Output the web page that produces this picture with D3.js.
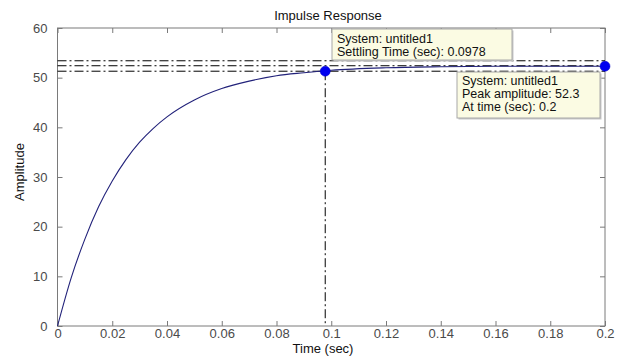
<!DOCTYPE html>
<html>
<head>
<meta charset="utf-8">
<script src="https://cdn.jsdelivr.net/npm/d3@7"></script>
<style>
  html, body { margin: 0; padding: 0; background: #fff; }
  svg { display: block; font-family: "Liberation Sans", Arial, sans-serif; }
</style>
</head>
<body>
<svg id="chart" width="617" height="357"></svg>
<script>
// ---- data ----
const timeValues = [0, 0.005, 0.01, 0.015, 0.02, 0.025, 0.03, 0.035, 0.04, 0.05, 0.06, 0.07, 0.08, 0.09, 0.1, 0.12, 0.14, 0.16, 0.18, 0.2];
const amplitudeValues = [0, 9.7, 17.5, 24.0, 29.2, 33.5, 37.0, 39.8, 42.1, 45.5, 47.8, 49.3, 50.4, 51.0, 51.5, 52.0, 52.2, 52.3, 52.3, 52.3];
const xTicks = [0, 0.02, 0.04, 0.06, 0.08, 0.1, 0.12, 0.14, 0.16, 0.18, 0.2];
const xTickLabels = ["0", "0.02", "0.04", "0.06", "0.08", "0.1", "0.12", "0.14", "0.16", "0.18", "0.2"];
const yTicks = [0, 10, 20, 30, 40, 50, 60];
const settlingBands = [53.4, 52.4, 51.3];
const settlingPoint = { t: 0.0978, y: 51.3 };
const peakPoint = { t: 0.2, y: 52.3 };
const settlingTip = ["System: untitled1", "Settling Time (sec): 0.0978"];
const peakTip = ["System: untitled1", "Peak amplitude: 52.3", "At time (sec): 0.2"];
const titleText = "Impulse Response";
const xLabelText = "Time (sec)";
const yLabelText = "Amplitude";

// ---- layout ----
const L = 57.5, R = 605, T = 28, B = 326;
const svg = d3.select("#chart");
const x = d3.scaleLinear().domain([0, 0.2]).range([L, R]);
const y = d3.scaleLinear().domain([0, 60]).range([B, T]);

const axisColor = "#7a7a7a";
const labelColor = "#4a4a4a";

// axes box
svg.append("rect").attr("x", L).attr("y", T).attr("width", R - L).attr("height", B - T)
  .attr("fill", "#fff").attr("stroke", axisColor).attr("stroke-width", 1);

// axes with inward ticks
const axBottom = svg.append("g").attr("transform", `translate(0,${B})`)
  .call(d3.axisBottom(x).tickValues(xTicks).tickFormat((d, i) => xTickLabels[i]).tickSizeInner(-5).tickSizeOuter(0).tickPadding(3));
const axTop = svg.append("g").attr("transform", `translate(0,${T})`)
  .call(d3.axisTop(x).tickValues(xTicks).tickFormat("").tickSizeInner(-5).tickSizeOuter(0));
const axLeft = svg.append("g").attr("transform", `translate(${L},0)`)
  .call(d3.axisLeft(y).tickValues(yTicks).tickSizeInner(-5).tickSizeOuter(0).tickPadding(10));
const axRight = svg.append("g").attr("transform", `translate(${R},0)`)
  .call(d3.axisRight(y).tickValues(yTicks).tickFormat("").tickSizeInner(-5).tickSizeOuter(0));
[axBottom, axTop, axLeft, axRight].forEach(g => {
  g.select(".domain").attr("stroke", "none");
  g.selectAll(".tick line").attr("stroke", axisColor);
  g.selectAll(".tick text").attr("fill", labelColor).attr("font-size", 13)
    .attr("font-family", "Liberation Sans, Arial, sans-serif");
});

// settling band lines (dash-dot)
svg.append("g").selectAll("line").data(settlingBands).join("line")
  .attr("x1", L).attr("x2", R)
  .attr("y1", d => y(d)).attr("y2", d => y(d))
  .attr("stroke", "#000").attr("stroke-width", 1)
  .attr("stroke-dasharray", "9,3,2,3");

// vertical settling line
svg.append("line")
  .attr("x1", x(settlingPoint.t)).attr("x2", x(settlingPoint.t))
  .attr("y1", y(settlingPoint.y)).attr("y2", B)
  .attr("stroke", "#000").attr("stroke-width", 1)
  .attr("stroke-dasharray", "9,3,2,3");

// response curve
const data = timeValues.map((t, i) => ({ t, v: amplitudeValues[i] }));
svg.append("path").datum(data)
  .attr("fill", "none").attr("stroke", "#22227a").attr("stroke-width", 1.1)
  .attr("d", d3.line().x(d => x(d.t)).y(d => y(d.v)).curve(d3.curveMonotoneX));

// markers
svg.append("g").selectAll("circle").data([settlingPoint, peakPoint]).join("circle")
  .attr("cx", d => x(d.t)).attr("cy", d => y(d.y)).attr("r", 5)
  .attr("fill", "#0000f0").attr("stroke", "#0000c8").attr("stroke-width", 0.5);

// data tips
function dataTip(lines, bx, by, bw, bh, firstY, step) {
  const g = svg.append("g");
  g.append("rect").attr("x", bx + 1.5).attr("y", by + 1.5).attr("width", bw).attr("height", bh)
    .attr("fill", "#c8c8c8");
  g.append("rect").attr("x", bx).attr("y", by).attr("width", bw).attr("height", bh)
    .attr("fill", "#fbfbe3").attr("stroke", "#a8a8a8").attr("stroke-width", 1);
  g.selectAll("text").data(lines).join("text")
    .attr("x", bx + 5).attr("y", (d, i) => firstY + i * step)
    .attr("dominant-baseline", "central")
    .attr("font-size", 12.5).attr("fill", "#111").text(d => d);
}
dataTip(settlingTip, 332, 29, 180, 31, 38.5, 13);
dataTip(peakTip, 457, 72, 143, 46, 81, 13);

// title and labels
svg.append("text").attr("x", 328).attr("y", 15).attr("text-anchor", "middle")
  .attr("dominant-baseline", "central").attr("font-size", 13).attr("fill", "#111").text(titleText);
svg.append("text").attr("x", 323).attr("y", 348.5).attr("text-anchor", "middle")
  .attr("dominant-baseline", "central").attr("font-size", 13).attr("fill", "#111").text(xLabelText);
svg.append("text").attr("transform", "translate(19,172) rotate(-90)").attr("text-anchor", "middle")
  .attr("dominant-baseline", "central").attr("font-size", 13).attr("fill", "#111").text(yLabelText);
</script>
</body>
</html>
